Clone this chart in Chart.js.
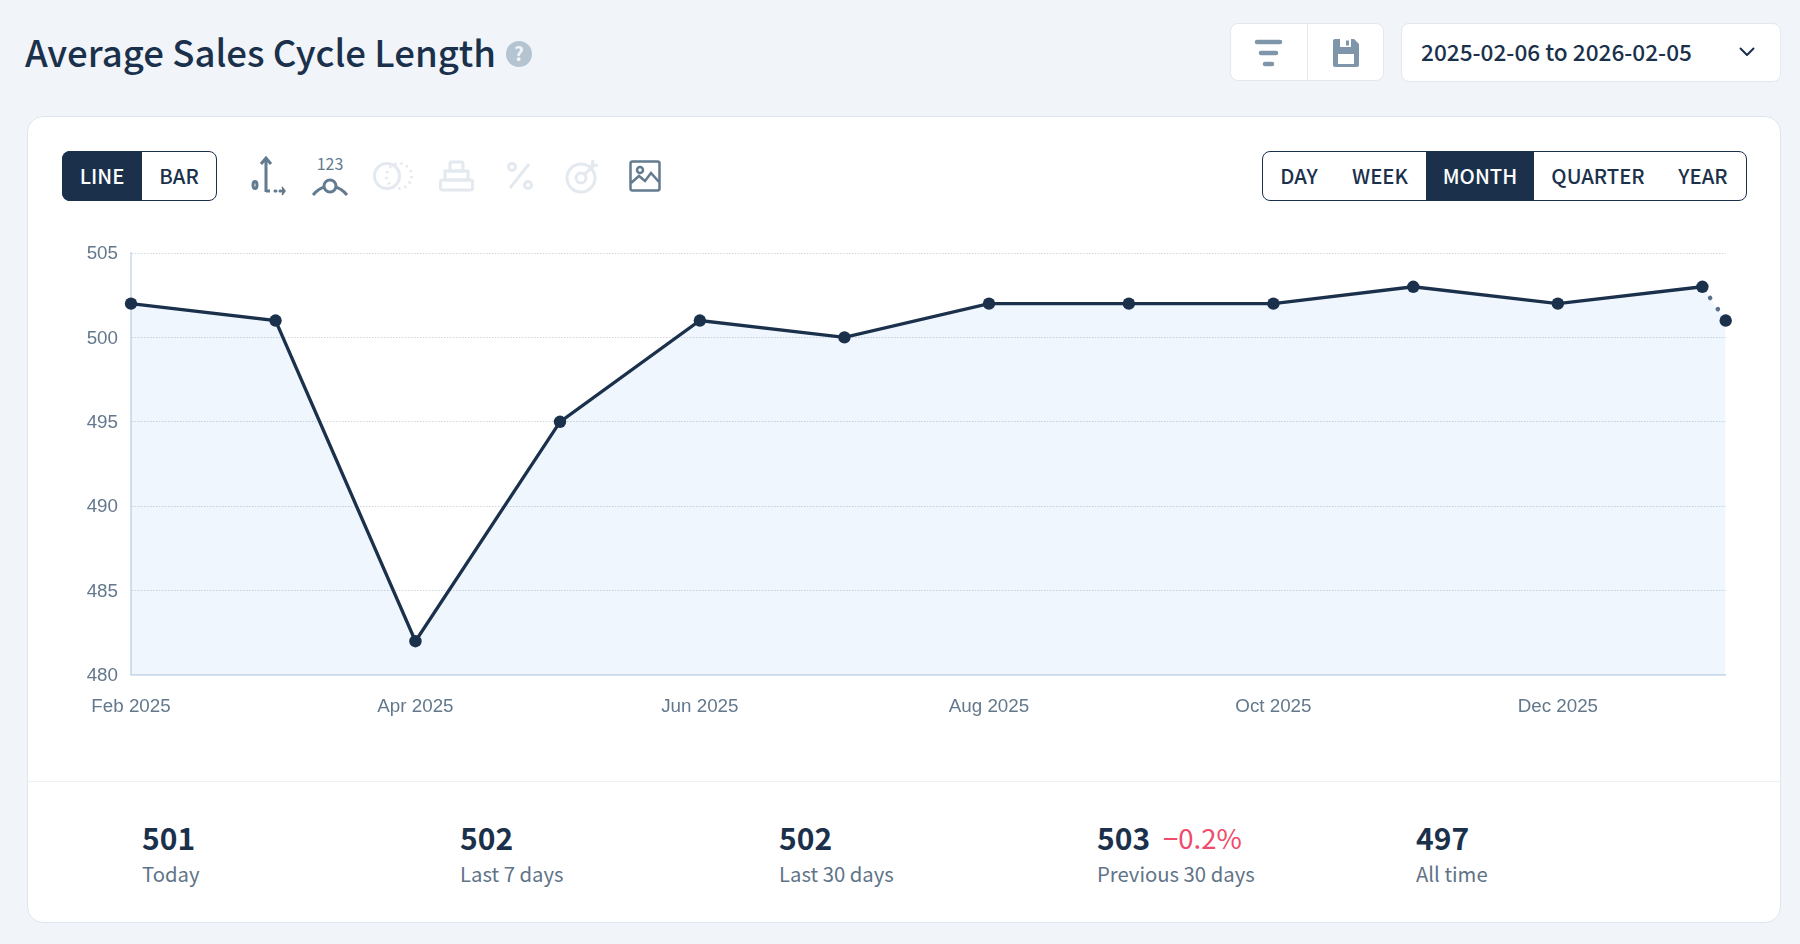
<!DOCTYPE html>
<html><head><meta charset="utf-8">
<script src="https://cdn.jsdelivr.net/npm/chart.js@4"></script>
<style>
*{box-sizing:border-box}
html,body{margin:0;padding:0;width:1800px;height:944px;overflow:hidden;background:#f1f5fa;font-family:"Noto Sans CJK SC","Noto Sans",sans-serif;color:#1b314b}
.a{position:absolute;white-space:nowrap}
#card{left:27px;top:116px;width:1754px;height:807px;background:#fff;border:1px solid #dfe6ee;border-radius:16px}
#divider{left:28px;top:781px;width:1752px;height:1px;background:#edf0f4}
#title{left:25px;top:52px;transform:translateY(-50%);font-size:36.6px;font-weight:500;line-height:1}
.box{background:#fff;border:1px solid #e2e8f0;border-radius:8px}
.seg{border:1px solid #1b314b;border-radius:8px;background:#fff;overflow:hidden}
.on{background:#1b314b}
.t{transform:translate(-50%,-50%);font-size:20.3px;font-weight:500;line-height:1}
.v{font-size:30px;font-weight:600;line-height:1;transform:translateY(-50%)}
.l{font-size:20.3px;color:#5f7488;line-height:1;transform:translateY(-50%)}
canvas{position:absolute;left:0;top:0}
svg{position:absolute;overflow:visible}
</style></head><body>
<div class="a" id="card"></div>
<div class="a" id="divider"></div>
<div class="a" id="title">Average Sales Cycle Length</div>
<svg style="left:506px;top:41px" width="26" height="26"><circle cx="13" cy="13" r="13" fill="#b4c4d0"/><text x="13" y="20" text-anchor="middle" font-size="19" font-weight="700" fill="#f1f5fa" style="font-family:'Noto Sans CJK SC'">?</text></svg>

<div class="a box" style="left:1230px;top:23px;width:154px;height:58px"></div>
<div class="a" style="left:1307px;top:23px;width:1px;height:58px;background:#e2e8f0"></div>
<svg style="left:1255px;top:40px" width="28" height="28"><g stroke="#7f96aa" stroke-width="4.5" stroke-linecap="round"><line x1="2" y1="2" x2="25" y2="2"/><line x1="6" y1="13" x2="21" y2="13"/><line x1="10" y1="24" x2="17" y2="24"/></g></svg>
<svg style="left:1332px;top:39px" width="28" height="28"><path d="M1 2a2 2 0 0 1 2-2h19l5 5v21a2 2 0 0 1-2 2H3a2 2 0 0 1-2-2z" fill="#7f96aa"/><rect x="6" y="15" width="16" height="10" fill="#fff"/><rect x="8" y="0" width="11" height="8" fill="#fff"/><rect x="14" y="1.5" width="3" height="5" fill="#7f96aa"/></svg>
<div class="a box" style="left:1401px;top:23px;width:380px;height:59px"></div>
<div class="a" id="range" style="left:1421px;top:52px;transform:translateY(-50%);font-size:22.6px;font-weight:500;line-height:1">2025-02-06 to 2026-02-05</div>
<svg style="left:1739px;top:47px" width="16" height="10"><path d="M1.5 1.5L8 8l6.5-6.5" fill="none" stroke="#1b314b" stroke-width="2" stroke-linecap="round" stroke-linejoin="round"/></svg>

<div class="a seg" style="left:62px;top:151px;width:155px;height:50px"></div>
<div class="a on" style="left:62px;top:151px;width:80px;height:50px;border-radius:8px 0 0 8px"></div>
<div class="a t" style="left:102px;top:175px;color:#fff">LINE</div>
<div class="a t" style="left:179px;top:175px">BAR</div>

<svg style="left:251px;top:156px" width="36" height="40" fill="none" stroke="#637b8f" stroke-width="3"><path d="M15 36V3M10 8l5-6 5 6M15 35h4"/><ellipse cx="4" cy="29" rx="2" ry="3.5"/><path d="M24 35h1M29 35h1" stroke-linecap="round"/><path d="M31 31l3 4-3 4" fill="#637b8f" stroke-width="1.5"/></svg>
<svg style="left:312px;top:154px" width="36" height="42" fill="none" stroke="#637b8f" stroke-width="3"><text x="18" y="16" text-anchor="middle" font-size="16" fill="#637b8f" stroke="none" style="font-family:'Noto Sans CJK SC'">123</text><circle cx="18" cy="32" r="6"/><path d="M1 41q6-7 12-8M35 41q-6-7-12-8"/></svg>
<svg style="left:373px;top:161px" width="40" height="30" fill="none" stroke="#e3e9ef" stroke-width="3"><circle cx="14" cy="15" r="12.5"/><circle cx="26" cy="15" r="12.5" stroke-dasharray="2 4"/></svg>
<svg style="left:439px;top:160px" width="36" height="32" fill="none" stroke="#e3e9ef" stroke-width="3"><rect x="1.5" y="20" width="32" height="10" rx="2"/><rect x="6" y="11" width="23" height="9"/><rect x="11" y="2" width="13" height="9" rx="1.5"/></svg>
<svg style="left:506px;top:162px" width="28" height="28" fill="none" stroke="#e3e9ef" stroke-width="3"><path d="M23 2L4 26"/><circle cx="6" cy="5" r="3.5"/><circle cx="22" cy="23" r="3.5"/></svg>
<svg style="left:566px;top:158px" width="36" height="36" fill="none" stroke="#e3e9ef" stroke-width="3"><circle cx="15" cy="20" r="14"/><circle cx="15" cy="20" r="5"/><path d="M18 17L29 6M27 2l-1 6 6-1"/></svg>
<svg style="left:629px;top:160px" width="32" height="32" fill="none" stroke="#637b8f" stroke-width="2.5"><rect x="1.5" y="1.5" width="29" height="29" rx="2"/><circle cx="11" cy="10" r="3"/><path d="M2 23l8-7 6 5 6-8 8 9"/></svg>

<div class="a seg" style="left:1262px;top:151px;width:485px;height:50px"></div>
<div class="a on" style="left:1426px;top:151px;width:108px;height:50px"></div>
<div class="a t" style="left:1299px;top:175px">DAY</div>
<div class="a t" style="left:1380px;top:175px">WEEK</div>
<div class="a t" style="left:1480px;top:175px;color:#fff">MONTH</div>
<div class="a t" style="left:1598px;top:175px">QUARTER</div>
<div class="a t" style="left:1703px;top:175px">YEAR</div>

<div class="a v" style="left:142px;top:837px">501</div><div class="a l" style="left:142px;top:873px">Today</div>
<div class="a v" style="left:460px;top:837px">502</div><div class="a l" style="left:460px;top:873px">Last 7 days</div>
<div class="a v" style="left:779px;top:837px">502</div><div class="a l" style="left:779px;top:873px">Last 30 days</div>
<div class="a v" style="left:1097px;top:837px">503</div><div class="a" style="left:1163px;top:838px;transform:translateY(-50%);font-size:27.5px;line-height:1;color:#ef4b6c">−0.2%</div><div class="a l" style="left:1097px;top:873px">Previous 30 days</div>
<div class="a v" style="left:1416px;top:837px">497</div><div class="a l" style="left:1416px;top:873px">All time</div>

<canvas id="c" width="1800" height="944" style="width:1800px;height:944px;pointer-events:none"></canvas>
<script>
const days = [0,31,61,92,122,153,184,214,245,275,306,337,342];
const values = [502,501,482,495,501,500,502,502,502,503,502,503,501];
const tickDays = [0,61,122,184,245,306];
const tickLabels = ['Feb 2025','Apr 2025','Jun 2025','Aug 2025','Oct 2025','Dec 2025'];
const yTicks = [480,485,490,495,500,505];
const points = days.map((d,i)=>({x:d,y:values[i]}));
const last = values.length-1;

Chart.defaults.font.family = '"Liberation Sans",Arial,sans-serif';
new Chart(document.getElementById('c'), {
  type: 'line',
  data: { datasets: [
   {
    data: points,
    borderColor:'#1b314b', borderWidth:3.3, tension:0, clip:false,
    pointRadius:6.2, pointBackgroundColor:'#1b314b', pointBorderWidth:0,
    fill:false,
    segment:{
      borderColor:c=>c.p1DataIndex===last?'#5b7088':undefined,
      borderDash:c=>c.p1DataIndex===last?[0.01,13.6]:undefined,
      borderCapStyle:c=>c.p1DataIndex===last?'round':undefined,
      borderWidth:c=>c.p1DataIndex===last?4.6:undefined
    }
   },
   {
    data: points,
    borderWidth:0, pointRadius:0, tension:0,
    fill:'origin', backgroundColor:'rgba(40,130,245,0.07)'
   }
  ]},
  options:{
    responsive:false, animation:false, devicePixelRatio:1,
    layout:{padding:{left:0,top:253,right:74.3,bottom:0}},
    plugins:{legend:{display:false},tooltip:{enabled:false}},
    scales:{
      x:{type:'linear',min:0,max:342,
        afterBuildTicks:s=>{s.ticks=tickDays.map(v=>({value:v}));},
        afterFit:s=>{s.height=269;},
        grid:{display:false},
        border:{display:true,color:'#d8e2ee',width:2},
        ticks:{autoSkip:false,maxRotation:0,padding:13,color:'#63788c',font:{size:18.8},
          callback:v=>tickLabels[tickDays.indexOf(v)]}},
      y:{min:480,max:505,
        afterBuildTicks:s=>{s.ticks=yTicks.map(v=>({value:v}));},
        afterFit:s=>{s.width=131;},
        grid:{color:'#ced6de',lineWidth:1,drawTicks:false},
        border:{display:true,color:'#d8e2ee',width:2,dash:[1.5,1.5]},
        ticks:{padding:13,labelOffset:1,color:'#63788c',font:{size:18.8}}}
    }
  }
});
</script>
</body></html>
